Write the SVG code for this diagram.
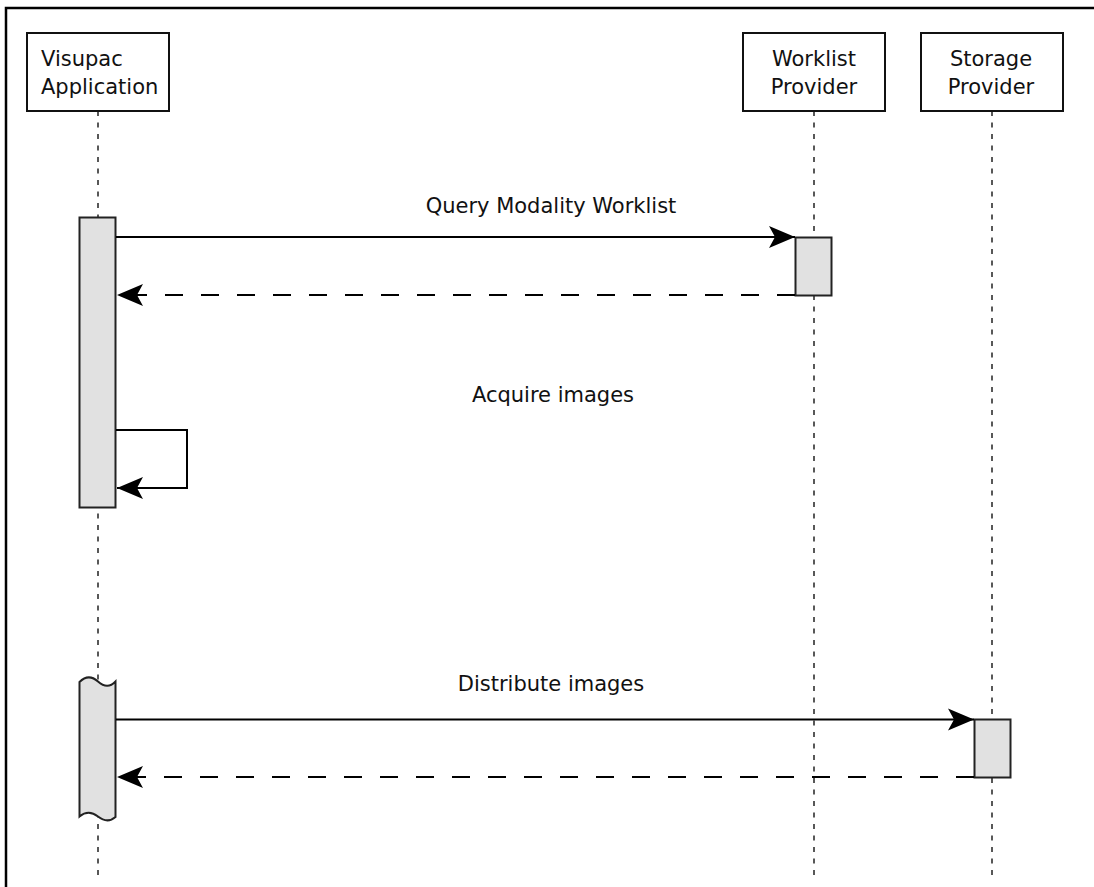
<svg xmlns="http://www.w3.org/2000/svg" width="1094" height="887" viewBox="0 0 1094 887">
<style>
  .frame{fill:none;stroke:#000;stroke-width:2.5}
  .box{fill:#fff;stroke:#111;stroke-width:2}
  .lbl{font-family:"DejaVu Sans",Verdana,sans-serif;font-size:21px;fill:#111}
  .life{stroke:#222;stroke-width:1.5;stroke-dasharray:5 6.5;fill:none}
  .act{fill:#e1e1e1;stroke:#222;stroke-width:2}
  .msg{fill:none;stroke:#000;stroke-width:2}
  .ret{fill:none;stroke:#000;stroke-width:2.2;stroke-dasharray:18 18}
</style>
<defs>
  <marker id="arr" markerUnits="userSpaceOnUse" markerWidth="30" markerHeight="26" viewBox="0 0 30 26" refX="27" refY="13" orient="auto">
    <path d="M27,13 L1,2 L7,13 L1,24 Z" fill="#000" stroke="none"/>
  </marker>
</defs>
<rect class="frame" x="6" y="8" width="1200" height="1000"/>

<g id="lifelines">
  <line class="life" x1="98" y1="111" x2="98" y2="879"/>
  <line class="life" x1="814" y1="111" x2="814" y2="879"/>
  <line class="life" x1="992" y1="111" x2="992" y2="879"/>
</g>

<g id="visupac">
  <rect class="box" x="27" y="33" width="142" height="78"/>
  <text class="lbl" x="41" y="66">Visupac</text>
  <text class="lbl" x="41" y="94">Application</text>
</g>
<g id="worklist">
  <rect class="box" x="743" y="33" width="142" height="78"/>
  <text class="lbl" x="814" y="66" text-anchor="middle">Worklist</text>
  <text class="lbl" x="814" y="94" text-anchor="middle">Provider</text>
</g>
<g id="storage">
  <rect class="box" x="921" y="33" width="142" height="78"/>
  <text class="lbl" x="991" y="66" text-anchor="middle">Storage</text>
  <text class="lbl" x="991" y="94" text-anchor="middle">Provider</text>
</g>

<g id="activation-visupac-1"><rect class="act" x="79.5" y="217.5" width="36" height="290"/></g>
<g id="activation-worklist"><rect class="act" x="795.5" y="237.5" width="36" height="58"/></g>
<g id="activation-visupac-2"><path class="act" d="M79.5,682 Q88.5,673 98,681.5 Q107.5,690 115.5,681.5 L115.5,817 Q107.5,824 98,816.5 Q88.5,809 79.5,816.5 Z"/></g>
<g id="activation-storage"><rect class="act" x="974.5" y="719.5" width="36" height="58"/></g>

<g id="connectors">
  <line class="msg" x1="116" y1="237" x2="795" y2="237" marker-end="url(#arr)"/>
  <line class="ret" x1="795" y1="295" x2="117" y2="295" marker-end="url(#arr)"/>
  <path class="msg" d="M116,430 H187 V488 H117" marker-end="url(#arr)"/>
  <line class="msg" x1="116" y1="719.5" x2="974" y2="719.5" marker-end="url(#arr)"/>
  <line class="ret" x1="974" y1="777" x2="117" y2="777" marker-end="url(#arr)"/>
</g>

<g id="labels">
  <text class="lbl" x="551" y="213" text-anchor="middle">Query Modality Worklist</text>
  <text class="lbl" x="553" y="402" text-anchor="middle">Acquire images</text>
  <text class="lbl" x="551" y="691" text-anchor="middle">Distribute images</text>
</g>
</svg>
